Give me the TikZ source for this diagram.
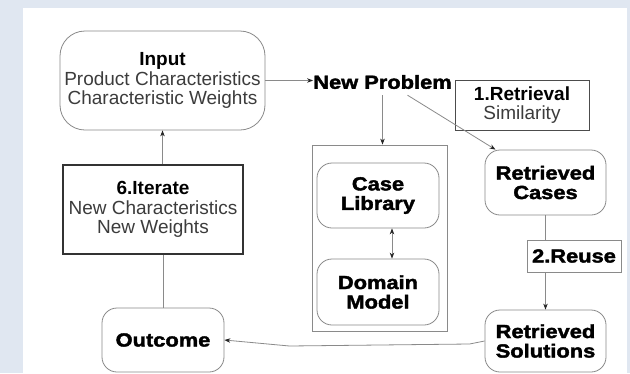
\documentclass[tikz,border=0pt]{standalone}
\usepackage{fontspec}
\setmainfont{Liberation Sans}
\newfontfamily\heavy{Liberation Sans}[BoldFeatures={FakeStretch=1.15,FakeBold=2}]
\usetikzlibrary{arrows.meta}
\definecolor{bgblue}{HTML}{E0E7F1}
\definecolor{edge}{HTML}{8A8A8A}
\definecolor{txt}{HTML}{3C3C3C}
\begin{document}
\begin{tikzpicture}[x=1pt,y=-1pt,
  every node/.style={font=\fontsize{19}{19.5}\selectfont, align=center, inner sep=0pt},
  rbox/.style={draw=edge, line width=0.8pt, rounded corners=15pt, minimum width=#1},
  sbox/.style={draw=black!70, line width=0.8pt},
  hv/.style={font=\fontsize{19}{19.5}\selectfont\heavy\bfseries, text=black},
  rg/.style={text=txt},
  ln/.style={draw=edge, line width=0.8pt},
  arr/.style={ln, -{Stealth[length=6pt,width=4.5pt,color=black!85]}},
  darr/.style={ln, {Stealth[length=6pt,width=4.5pt,color=black!85]}-{Stealth[length=6pt,width=4.5pt,color=black!85]}}
]
\useasboundingbox (0,0) rectangle (630,373);
\fill[bgblue] (0,0) rectangle (630,373);
\fill[white] (23,8) rectangle (627,373);

\node[rbox=205pt, rounded corners=25pt, minimum height=99pt, rg] (input) at (162.5,80.5)
  {{\bfseries\color{black}Input}\\Product Characteristics\\Characteristic Weights};
\node[hv] (np) at (382.5,82) {New Problem};
\coordinate (npd) at ([yshift=-6pt]np.south);
\node[sbox, minimum width=134pt, minimum height=50pt, rg] (ret) at (522,105)
  {{\bfseries\color{black}1.Retrieval}\\Similarity};
\node[draw=edge, line width=0.8pt, minimum width=135pt, minimum height=186pt] (lib) at (379.5,238) {};
\node[rbox=122pt, minimum height=65pt, hv] (cl) at (378,195.5) {Case\\Library};
\node[rbox=122pt, minimum height=66pt, hv] (dm) at (378,292) {Domain\\Model};
\node[rbox=121pt, minimum height=65pt, hv] (rc) at (545.5,182.5) {Retrieved\\Cases};
\node[draw=edge, line width=0.8pt, minimum width=94pt, minimum height=32pt, hv] (reuse) at (574,256) {2.Reuse};
\node[rbox=121pt, minimum height=62pt, hv] (rs) at (545.5,341) {Retrieved\\Solutions};
\node[rbox=122pt, minimum height=64pt, hv] (oc) at (163,340) {Outcome};
\node[draw=black!80, line width=1.8pt, minimum width=180pt, minimum height=89pt, rg] (it) at (153,209.5)
  {{\bfseries\color{black}6.Iterate}\\New Characteristics\\New Weights};

\draw[arr] (input.east) -- (np.west |- input.east);
\draw[arr] (npd) -- (npd |- lib.north);
\draw[arr] ([xshift=25pt]npd) -- ([xshift=-50pt]rc.north);
\draw[darr] ([xshift=14pt]cl.south) -- ([xshift=14pt]dm.north);
\draw[ln] (rc.south) -- (rc.south |- reuse.north);
\draw[arr] (rs.north |- reuse.south) -- (rs.north);
\draw[arr] (rs.west) -- ([xshift=-15pt,yshift=-3pt]rs.west) -- ([xshift=65pt,yshift=-6pt]oc.east) -- (oc.east);
\draw[ln] (oc.north) -- (oc.north |- it.south);
\draw[arr] (input.south |- it.north) -- (input.south);
\end{tikzpicture}
\end{document}
